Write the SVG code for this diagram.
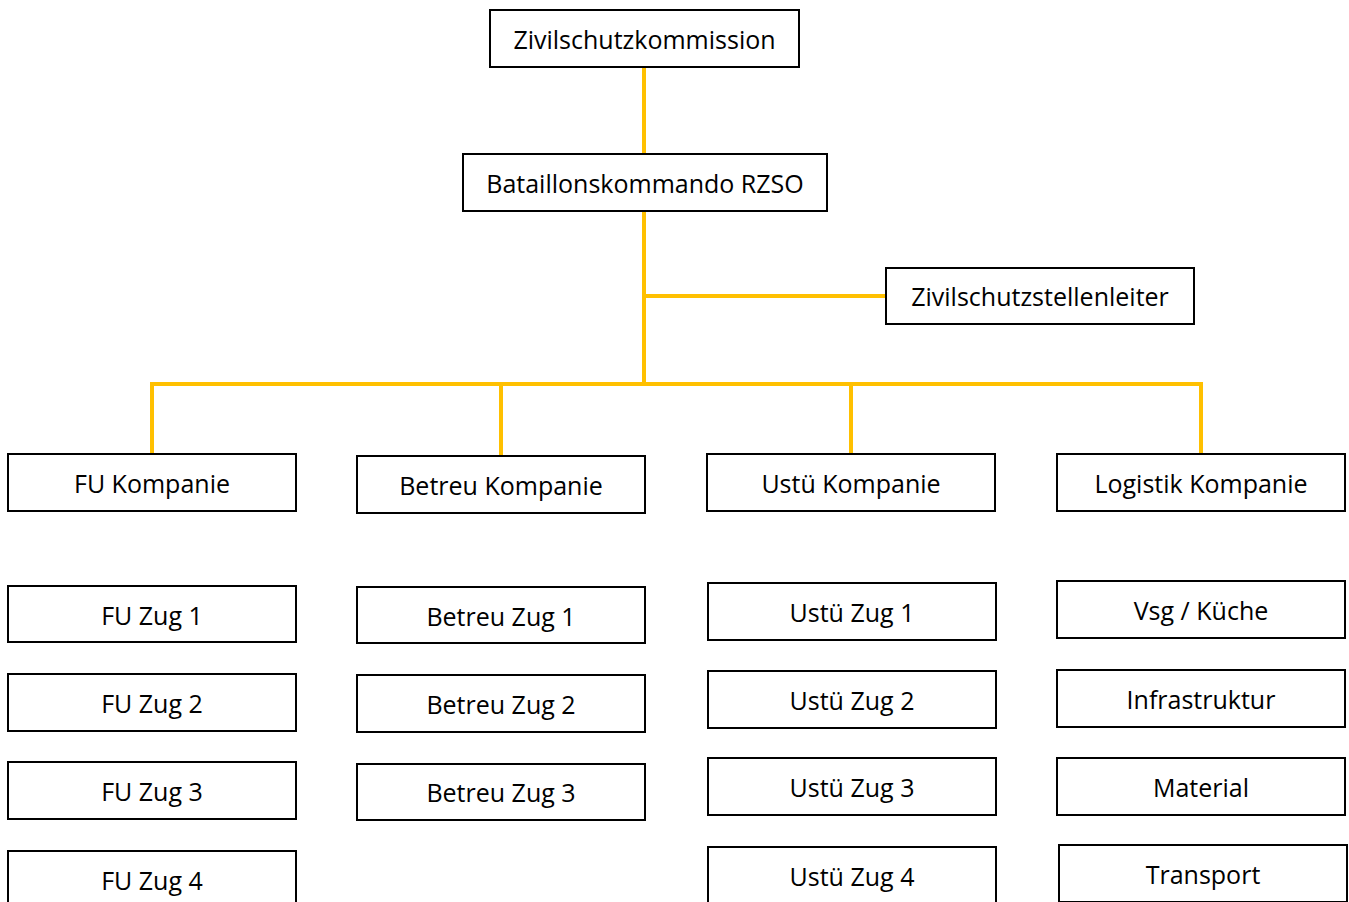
<svg xmlns="http://www.w3.org/2000/svg" width="1349" height="902" viewBox="0 0 1349 902">
<style>
.box{fill:#fff;stroke:#000;stroke-width:2}
.lbl{font-family:"Open Sans","Liberation Sans",sans-serif;font-size:25px;fill:#000;text-anchor:middle;dominant-baseline:central}
.con{stroke:#FFC000;stroke-width:4;fill:none}
</style>
<rect width="1349" height="902" fill="#fff"/>
<g id="connectors">
<line class="con" x1="644" y1="67" x2="644" y2="154"/>
<line class="con" x1="644" y1="211" x2="644" y2="385"/>
<line class="con" x1="644" y1="296" x2="886" y2="296"/>
<polyline class="con" points="152,455 152,384 1201,384 1201,455"/>
<line class="con" x1="501" y1="384" x2="501" y2="457"/>
<line class="con" x1="851" y1="384" x2="851" y2="455"/>
</g>
<g id="n-zsk"><rect class="box" x="490" y="10" width="309" height="57"/><text class="lbl" x="644.5" y="39">Zivilschutzkommission</text></g>
<g id="n-bat"><rect class="box" x="463" y="154" width="364" height="57"/><text class="lbl" x="645" y="183">Bataillonskommando RZSO</text></g>
<g id="n-zsl"><rect class="box" x="886" y="268" width="308" height="56"/><text class="lbl" x="1040" y="296">Zivilschutzstellenleiter</text></g>
<g id="n-fu"><rect class="box" x="8" y="454" width="288" height="57"/><text class="lbl" x="152" y="483">FU Kompanie</text></g>
<g id="n-betreu"><rect class="box" x="357" y="456" width="288" height="57"/><text class="lbl" x="501" y="485">Betreu Kompanie</text></g>
<g id="n-ustu"><rect class="box" x="707" y="454" width="288" height="57"/><text class="lbl" x="851" y="483">Ustü Kompanie</text></g>
<g id="n-log"><rect class="box" x="1057" y="454" width="288" height="57"/><text class="lbl" x="1201" y="483">Logistik Kompanie</text></g>
<g id="n-fu1"><rect class="box" x="8" y="586" width="288" height="56"/><text class="lbl" x="152" y="615">FU Zug 1</text></g>
<g id="n-fu2"><rect class="box" x="8" y="674" width="288" height="57"/><text class="lbl" x="152" y="703">FU Zug 2</text></g>
<g id="n-fu3"><rect class="box" x="8" y="762" width="288" height="57"/><text class="lbl" x="152" y="791">FU Zug 3</text></g>
<g id="n-fu4"><rect class="box" x="8" y="851" width="288" height="57"/><text class="lbl" x="152" y="880">FU Zug 4</text></g>
<g id="n-b1"><rect class="box" x="357" y="587" width="288" height="56"/><text class="lbl" x="501" y="616">Betreu Zug 1</text></g>
<g id="n-b2"><rect class="box" x="357" y="675" width="288" height="57"/><text class="lbl" x="501" y="704">Betreu Zug 2</text></g>
<g id="n-b3"><rect class="box" x="357" y="764" width="288" height="56"/><text class="lbl" x="501" y="792">Betreu Zug 3</text></g>
<g id="n-u1"><rect class="box" x="708" y="583" width="288" height="57"/><text class="lbl" x="852" y="612">Ustü Zug 1</text></g>
<g id="n-u2"><rect class="box" x="708" y="671" width="288" height="57"/><text class="lbl" x="852" y="700">Ustü Zug 2</text></g>
<g id="n-u3"><rect class="box" x="708" y="758" width="288" height="57"/><text class="lbl" x="852" y="787">Ustü Zug 3</text></g>
<g id="n-u4"><rect class="box" x="708" y="847" width="288" height="57"/><text class="lbl" x="852" y="876">Ustü Zug 4</text></g>
<g id="n-l1"><rect class="box" x="1057" y="581" width="288" height="57"/><text class="lbl" x="1201" y="610">Vsg / Küche</text></g>
<g id="n-l2"><rect class="box" x="1057" y="670" width="288" height="57"/><text class="lbl" x="1201" y="699">Infrastruktur</text></g>
<g id="n-l3"><rect class="box" x="1057" y="758" width="288" height="57"/><text class="lbl" x="1201" y="787">Material</text></g>
<g id="n-l4"><rect class="box" x="1059" y="845" width="288" height="57"/><text class="lbl" x="1203" y="874">Transport</text></g>
</svg>
